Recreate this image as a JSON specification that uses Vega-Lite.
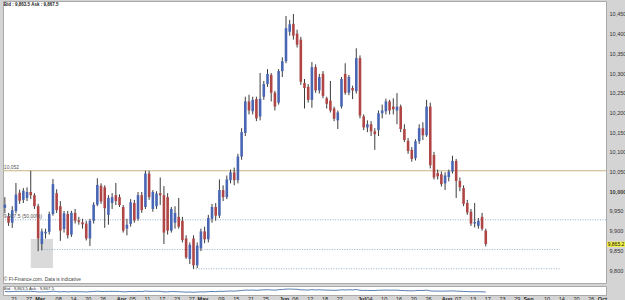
{
"$schema": "https://vega.github.io/schema/vega-lite/v6.json",
"background": "#d4d4d4",
"padding": {"left": 2, "top": 0, "right": 0, "bottom": 0},
"spacing": 1,
"config": {"view": {"fill": "#ffffff", "stroke": "#aaaaaa", "strokeWidth": 1}, "font": "Liberation Sans", "background": "#d4d4d4", "axisY": {"tickCount": 14}},
"resolve": {"scale": {"x": "shared"}},
"datasets": {
"ohlc": [
{"d":"2012-02-17","o":9958,"h":9985,"l":9944,"c":9966},
{"d":"2012-02-20","o":9937,"h":9945,"l":9912,"c":9920},
{"d":"2012-02-21","o":9920,"h":9962,"l":9907,"c":9952},
{"d":"2012-02-22","o":9950,"h":10021,"l":9944,"c":9992},
{"d":"2012-02-23","o":9996,"h":10004,"l":9968,"c":9976},
{"d":"2012-02-24","o":9978,"h":10008,"l":9970,"c":10001},
{"d":"2012-02-27","o":9983,"h":10010,"l":9975,"c":9998},
{"d":"2012-02-28","o":9998,"h":10052,"l":9980,"c":9990},
{"d":"2012-02-29","o":9990,"h":9995,"l":9955,"c":9962},
{"d":"2012-03-01","o":9962,"h":9968,"l":9848,"c":9880},
{"d":"2012-03-02","o":9866,"h":9905,"l":9850,"c":9898},
{"d":"2012-03-05","o":9893,"h":9905,"l":9880,"c":9897},
{"d":"2012-03-06","o":9897,"h":9948,"l":9890,"c":9942},
{"d":"2012-03-07","o":9942,"h":10031,"l":9938,"c":10018},
{"d":"2012-03-08","o":9995,"h":10005,"l":9945,"c":9952},
{"d":"2012-03-09","o":9962,"h":9975,"l":9874,"c":9900},
{"d":"2012-03-12","o":9904,"h":9950,"l":9895,"c":9944},
{"d":"2012-03-13","o":9942,"h":9950,"l":9880,"c":9888},
{"d":"2012-03-14","o":9890,"h":9950,"l":9884,"c":9945},
{"d":"2012-03-15","o":9945,"h":9955,"l":9918,"c":9925},
{"d":"2012-03-16","o":9926,"h":9935,"l":9915,"c":9922},
{"d":"2012-03-19","o":9921,"h":9930,"l":9905,"c":9916},
{"d":"2012-03-20","o":9918,"h":9925,"l":9875,"c":9880},
{"d":"2012-03-21","o":9880,"h":9930,"l":9861,"c":9925},
{"d":"2012-03-22","o":9925,"h":9972,"l":9918,"c":9966},
{"d":"2012-03-23","o":9966,"h":10033,"l":9962,"c":10016},
{"d":"2012-03-26","o":10014,"h":10020,"l":9968,"c":9974},
{"d":"2012-03-27","o":10010,"h":10015,"l":9907,"c":9957},
{"d":"2012-03-28","o":9940,"h":9990,"l":9915,"c":9983},
{"d":"2012-03-29","o":9970,"h":9995,"l":9955,"c":9985},
{"d":"2012-03-30","o":9990,"h":10021,"l":9965,"c":9975},
{"d":"2012-04-02","o":9985,"h":9992,"l":9960,"c":9965},
{"d":"2012-04-03","o":9960,"h":9965,"l":9895,"c":9900},
{"d":"2012-04-04","o":9905,"h":9930,"l":9888,"c":9915},
{"d":"2012-04-05","o":9917,"h":9980,"l":9910,"c":9972},
{"d":"2012-04-06","o":9970,"h":9978,"l":9920,"c":9926},
{"d":"2012-04-09","o":9930,"h":9998,"l":9925,"c":9990},
{"d":"2012-04-10","o":9990,"h":9998,"l":9945,"c":9952},
{"d":"2012-04-11","o":9960,"h":10052,"l":9955,"c":10045},
{"d":"2012-04-12","o":10045,"h":10052,"l":9978,"c":9985},
{"d":"2012-04-13","o":9955,"h":10003,"l":9948,"c":9998},
{"d":"2012-04-16","o":9962,"h":10000,"l":9955,"c":9994},
{"d":"2012-04-17","o":9995,"h":10035,"l":9965,"c":9990},
{"d":"2012-04-18","o":9990,"h":10013,"l":9866,"c":9895},
{"d":"2012-04-19","o":9985,"h":9995,"l":9890,"c":9900},
{"d":"2012-04-20","o":9900,"h":9960,"l":9895,"c":9955},
{"d":"2012-04-23","o":9920,"h":9962,"l":9905,"c":9945},
{"d":"2012-04-24","o":9935,"h":9983,"l":9905,"c":9910},
{"d":"2012-04-25","o":9925,"h":9935,"l":9870,"c":9876},
{"d":"2012-04-26","o":9880,"h":9888,"l":9828,"c":9832},
{"d":"2012-04-27","o":9828,"h":9870,"l":9815,"c":9864},
{"d":"2012-04-30","o":9880,"h":9888,"l":9803,"c":9812},
{"d":"2012-05-01","o":9812,"h":9870,"l":9805,"c":9862},
{"d":"2012-05-02","o":9855,"h":9905,"l":9848,"c":9898},
{"d":"2012-05-03","o":9898,"h":9910,"l":9868,"c":9878},
{"d":"2012-05-04","o":9878,"h":9940,"l":9870,"c":9932},
{"d":"2012-05-07","o":9930,"h":9968,"l":9920,"c":9960},
{"d":"2012-05-08","o":9960,"h":9970,"l":9925,"c":9938},
{"d":"2012-05-09","o":9938,"h":10030,"l":9932,"c":10003},
{"d":"2012-05-10","o":10003,"h":10015,"l":9975,"c":9985},
{"d":"2012-05-11","o":9985,"h":10040,"l":9980,"c":10030},
{"d":"2012-05-14","o":10028,"h":10055,"l":10020,"c":10048},
{"d":"2012-05-15","o":10048,"h":10060,"l":10015,"c":10028},
{"d":"2012-05-16","o":10028,"h":10095,"l":10020,"c":10088},
{"d":"2012-05-17","o":10088,"h":10160,"l":10080,"c":10150},
{"d":"2012-05-18","o":10148,"h":10240,"l":10140,"c":10228},
{"d":"2012-05-21","o":10228,"h":10245,"l":10195,"c":10205},
{"d":"2012-05-22","o":10203,"h":10240,"l":10195,"c":10232},
{"d":"2012-05-23","o":10234,"h":10240,"l":10178,"c":10185},
{"d":"2012-05-24","o":10190,"h":10300,"l":10180,"c":10235},
{"d":"2012-05-25","o":10240,"h":10280,"l":10232,"c":10272},
{"d":"2012-05-28","o":10272,"h":10310,"l":10265,"c":10298},
{"d":"2012-05-29","o":10295,"h":10300,"l":10228,"c":10250},
{"d":"2012-05-30","o":10250,"h":10255,"l":10205,"c":10215},
{"d":"2012-05-31","o":10225,"h":10310,"l":10220,"c":10305},
{"d":"2012-06-01","o":10305,"h":10340,"l":10290,"c":10330},
{"d":"2012-06-04","o":10330,"h":10445,"l":10325,"c":10414},
{"d":"2012-06-05","o":10405,"h":10435,"l":10395,"c":10424},
{"d":"2012-06-06","o":10425,"h":10450,"l":10385,"c":10395},
{"d":"2012-06-07","o":10400,"h":10410,"l":10365,"c":10372},
{"d":"2012-06-08","o":10385,"h":10392,"l":10270,"c":10278},
{"d":"2012-06-11","o":10275,"h":10285,"l":10210,"c":10262},
{"d":"2012-06-12","o":10265,"h":10272,"l":10225,"c":10232},
{"d":"2012-06-13","o":10232,"h":10328,"l":10212,"c":10315},
{"d":"2012-06-14","o":10315,"h":10322,"l":10250,"c":10256},
{"d":"2012-06-15","o":10256,"h":10298,"l":10248,"c":10290},
{"d":"2012-06-18","o":10298,"h":10305,"l":10236,"c":10242},
{"d":"2012-06-19","o":10236,"h":10240,"l":10210,"c":10222},
{"d":"2012-06-20","o":10230,"h":10280,"l":10200,"c":10205},
{"d":"2012-06-21","o":10210,"h":10215,"l":10178,"c":10184},
{"d":"2012-06-22","o":10180,"h":10205,"l":10158,"c":10200},
{"d":"2012-06-25","o":10215,"h":10290,"l":10210,"c":10285},
{"d":"2012-06-26","o":10298,"h":10325,"l":10245,"c":10250},
{"d":"2012-06-27","o":10250,"h":10295,"l":10244,"c":10290},
{"d":"2012-06-28","o":10262,"h":10268,"l":10234,"c":10256},
{"d":"2012-06-29","o":10254,"h":10363,"l":10248,"c":10338},
{"d":"2012-07-02","o":10338,"h":10345,"l":10185,"c":10192},
{"d":"2012-07-03","o":10190,"h":10195,"l":10155,"c":10162},
{"d":"2012-07-04","o":10162,"h":10180,"l":10150,"c":10170},
{"d":"2012-07-05","o":10170,"h":10178,"l":10140,"c":10152},
{"d":"2012-07-06","o":10152,"h":10160,"l":10105,"c":10145},
{"d":"2012-07-09","o":10155,"h":10205,"l":10140,"c":10198},
{"d":"2012-07-10","o":10198,"h":10220,"l":10185,"c":10205},
{"d":"2012-07-11","o":10203,"h":10235,"l":10195,"c":10228},
{"d":"2012-07-12","o":10228,"h":10232,"l":10195,"c":10205},
{"d":"2012-07-13","o":10215,"h":10236,"l":10195,"c":10208},
{"d":"2012-07-16","o":10205,"h":10249,"l":10170,"c":10215},
{"d":"2012-07-17","o":10215,"h":10220,"l":10150,"c":10158},
{"d":"2012-07-18","o":10158,"h":10170,"l":10125,"c":10130},
{"d":"2012-07-19","o":10128,"h":10135,"l":10095,"c":10102},
{"d":"2012-07-20","o":10105,"h":10112,"l":10075,"c":10082},
{"d":"2012-07-23","o":10084,"h":10132,"l":10078,"c":10127},
{"d":"2012-07-24","o":10127,"h":10170,"l":10120,"c":10160},
{"d":"2012-07-25","o":10160,"h":10175,"l":10130,"c":10142},
{"d":"2012-07-26","o":10142,"h":10232,"l":10138,"c":10215},
{"d":"2012-07-27","o":10215,"h":10225,"l":10058,"c":10066},
{"d":"2012-07-30","o":10092,"h":10100,"l":10030,"c":10035},
{"d":"2012-07-31","o":10046,"h":10055,"l":10030,"c":10038},
{"d":"2012-08-01","o":10043,"h":10050,"l":10012,"c":10018},
{"d":"2012-08-02","o":10020,"h":10048,"l":10003,"c":10040},
{"d":"2012-08-03","o":10036,"h":10055,"l":10025,"c":10050},
{"d":"2012-08-06","o":10050,"h":10090,"l":10045,"c":10077},
{"d":"2012-08-07","o":10077,"h":10082,"l":9983,"c":10026},
{"d":"2012-08-08","o":10026,"h":10035,"l":10000,"c":10010},
{"d":"2012-08-09","o":10008,"h":10015,"l":9962,"c":9968},
{"d":"2012-08-10","o":9970,"h":9978,"l":9940,"c":9946},
{"d":"2012-08-13","o":9948,"h":9955,"l":9912,"c":9918},
{"d":"2012-08-14","o":9918,"h":9970,"l":9908,"c":9922},
{"d":"2012-08-15","o":9912,"h":9932,"l":9905,"c":9925},
{"d":"2012-08-16","o":9935,"h":9945,"l":9900,"c":9905},
{"d":"2012-08-17","o":9900,"h":9905,"l":9860,"c":9866}
],
"levels": [
{"y": 10052, "label": "10,052", "style": "res"},
{"y": 9927.5, "label": "9,927.5 (50.00%)", "style": "fib"}
],
"segments": [
{"d": "2012-03-02", "d2": "2012-09-14", "y": 9852},
{"d": "2012-04-30", "d2": "2012-09-14", "y": 9803}
],
"zone": [{"d": "2012-02-28", "d2": "2012-03-07", "lo": 9805, "hi": 9879}]
},
"vconcat": [
{
"width": 603,
"height": 282,
"layer": [
{"data": {"name": "zone"}, "mark": {"type": "rect", "color": "#dadada"},
 "encoding": {"x": {"field": "d", "type": "ordinal", "axis": null}, "x2": {"field": "d2"},
  "y": {"field": "lo", "type": "quantitative", "title": null, "scale": {"domain": [9767, 10483], "zero": false, "nice": false},
   "axis": {"orient": "right", "values": [9800, 9850, 9900, 9950, 10000, 10050, 10100, 10150, 10200, 10250, 10300, 10350, 10400, 10450], "tickCount": 14,
    "labelExpr": "format(datum.value, ',')", "labelFontSize": 5.5, "labelColor": "#333333", "ticks": false, "domain": false, "grid": false,
    "labelPadding": 3, "minExtent": 20, "maxExtent": 20, "title": null, "labelOverlap": false,
    "labelFontWeight": {"condition": {"test": "datum.value == 10000", "value": "bold"}, "value": "normal"}}},
  "y2": {"field": "hi"}}},
{"data": {"name": "levels"}, "transform": [{"filter": "datum.style == 'res'"}],
 "mark": {"type": "rule", "color": "#c6b384", "strokeWidth": 1},
 "encoding": {"y": {"field": "y", "type": "quantitative", "title": null, "axis": {"orient": "right", "values": [9800, 9850, 9900, 9950, 10000, 10050, 10100, 10150, 10200, 10250, 10300, 10350, 10400, 10450], "tickCount": 14, "labelOverlap": false, "title": null}}}},
{"data": {"name": "levels"}, "transform": [{"filter": "datum.style == 'fib'"}],
 "mark": {"type": "rule", "color": "#7f9cb5", "strokeWidth": 0.8, "strokeDash": [1, 1.5]},
 "encoding": {"y": {"field": "y", "type": "quantitative", "title": null, "axis": {"orient": "right", "values": [9800, 9850, 9900, 9950, 10000, 10050, 10100, 10150, 10200, 10250, 10300, 10350, 10400, 10450], "tickCount": 14, "labelOverlap": false, "title": null}}}},
{"data": {"name": "segments"},
 "mark": {"type": "rule", "color": "#7f9cb5", "strokeWidth": 0.8, "strokeDash": [1, 1.5]},
 "encoding": {"x": {"field": "d", "type": "ordinal", "axis": null}, "x2": {"field": "d2"},
  "y": {"field": "y", "type": "quantitative", "title": null, "axis": {"orient": "right", "values": [9800, 9850, 9900, 9950, 10000, 10050, 10100, 10150, 10200, 10250, 10300, 10350, 10400, 10450], "tickCount": 14, "labelOverlap": false, "title": null}}}},
{"data": {"name": "ohlc"}, "mark": {"type": "rule", "color": "#3c3c3c", "strokeWidth": 1},
 "encoding": {
  "x": {"field": "d", "type": "ordinal", "axis": null, "scale": {"paddingInner": 0, "paddingOuter": 0, "domain": ["2012-02-17","2012-02-20","2012-02-21","2012-02-22","2012-02-23","2012-02-24","2012-02-27","2012-02-28","2012-02-29","2012-03-01","2012-03-02","2012-03-05","2012-03-06","2012-03-07","2012-03-08","2012-03-09","2012-03-12","2012-03-13","2012-03-14","2012-03-15","2012-03-16","2012-03-19","2012-03-20","2012-03-21","2012-03-22","2012-03-23","2012-03-26","2012-03-27","2012-03-28","2012-03-29","2012-03-30","2012-04-02","2012-04-03","2012-04-04","2012-04-05","2012-04-06","2012-04-09","2012-04-10","2012-04-11","2012-04-12","2012-04-13","2012-04-16","2012-04-17","2012-04-18","2012-04-19","2012-04-20","2012-04-23","2012-04-24","2012-04-25","2012-04-26","2012-04-27","2012-04-30","2012-05-01","2012-05-02","2012-05-03","2012-05-04","2012-05-07","2012-05-08","2012-05-09","2012-05-10","2012-05-11","2012-05-14","2012-05-15","2012-05-16","2012-05-17","2012-05-18","2012-05-21","2012-05-22","2012-05-23","2012-05-24","2012-05-25","2012-05-28","2012-05-29","2012-05-30","2012-05-31","2012-06-01","2012-06-04","2012-06-05","2012-06-06","2012-06-07","2012-06-08","2012-06-11","2012-06-12","2012-06-13","2012-06-14","2012-06-15","2012-06-18","2012-06-19","2012-06-20","2012-06-21","2012-06-22","2012-06-25","2012-06-26","2012-06-27","2012-06-28","2012-06-29","2012-07-02","2012-07-03","2012-07-04","2012-07-05","2012-07-06","2012-07-09","2012-07-10","2012-07-11","2012-07-12","2012-07-13","2012-07-16","2012-07-17","2012-07-18","2012-07-19","2012-07-20","2012-07-23","2012-07-24","2012-07-25","2012-07-26","2012-07-27","2012-07-30","2012-07-31","2012-08-01","2012-08-02","2012-08-03","2012-08-06","2012-08-07","2012-08-08","2012-08-09","2012-08-10","2012-08-13","2012-08-14","2012-08-15","2012-08-16","2012-08-17","2012-08-20","2012-08-21","2012-08-22","2012-08-23","2012-08-24","2012-08-27","2012-08-28","2012-08-29","2012-08-30","2012-08-31","2012-09-03","2012-09-04","2012-09-05","2012-09-06","2012-09-07","2012-09-10","2012-09-11","2012-09-12","2012-09-13","2012-09-14","2012-09-17","2012-09-18","2012-09-19","2012-09-20","2012-09-21","2012-09-24","2012-09-25","2012-09-26","2012-09-27","2012-09-28","2012-10-01","2012-10-02"]}},
  "y": {"field": "l", "type": "quantitative", "title": null, "axis": {"orient": "right", "values": [9800, 9850, 9900, 9950, 10000, 10050, 10100, 10150, 10200, 10250, 10300, 10350, 10400, 10450], "tickCount": 14, "labelOverlap": false, "title": null}},
  "y2": {"field": "h"}}},
{"data": {"name": "ohlc"}, "mark": {"type": "bar", "width": {"band": 0.7}},
 "encoding": {
  "x": {"field": "d", "type": "ordinal", "axis": null},
  "y": {"field": "o", "type": "quantitative", "title": null, "axis": {"orient": "right", "values": [9800, 9850, 9900, 9950, 10000, 10050, 10100, 10150, 10200, 10250, 10300, 10350, 10400, 10450], "tickCount": 14, "labelOverlap": false, "title": null}},
  "y2": {"field": "c"},
  "color": {"condition": {"test": "datum.c >= datum.o", "value": "#4866b4"}, "value": "#b04545"}}},
{"data": {"name": "levels"},
 "mark": {"type": "text", "align": "left", "baseline": "bottom", "fontSize": 5, "dx": -1, "dy": -1, "color": "#555555"},
 "encoding": {"x": {"datum": "2012-02-17", "type": "ordinal", "axis": null},
  "y": {"field": "y", "type": "quantitative", "title": null, "axis": {"orient": "right", "values": [9800, 9850, 9900, 9950, 10000, 10050, 10100, 10150, 10200, 10250, 10300, 10350, 10400, 10450], "tickCount": 14, "labelOverlap": false, "title": null}},
  "text": {"field": "label"}}},
{"data": {"values": [{"t": "Bid : 9,863.5 Ask : 9,867.5"}]},
 "mark": {"type": "text", "align": "left", "baseline": "top", "fontSize": 4.5, "fontWeight": "bold", "dx": -1, "dy": 1, "color": "#222222"},
 "encoding": {"x": {"datum": "2012-02-17", "type": "ordinal", "axis": null},
  "y": {"datum": 10483, "type": "quantitative", "title": null, "axis": {"orient": "right", "values": [9800, 9850, 9900, 9950, 10000, 10050, 10100, 10150, 10200, 10250, 10300, 10350, 10400, 10450], "tickCount": 14, "labelOverlap": false, "title": null}},
  "text": {"field": "t"}}},
{"data": {"values": [{"t": "© FI-Finance.com. Data is indicative"}]},
 "mark": {"type": "text", "align": "left", "baseline": "bottom", "fontSize": 4.8, "dx": -1, "dy": -1, "color": "#444444"},
 "encoding": {"x": {"datum": "2012-02-17", "type": "ordinal", "axis": null},
  "y": {"datum": 9767, "type": "quantitative", "title": null, "axis": {"orient": "right", "values": [9800, 9850, 9900, 9950, 10000, 10050, 10100, 10150, 10200, 10250, 10300, 10350, 10400, 10450], "tickCount": 14, "labelOverlap": false, "title": null}},
  "text": {"field": "t"}}},
{"data": {"values": [{"v": 9865.2, "t": "9,865.2"}]},
 "mark": {"type": "point", "shape": "M-1,-0.3L1,-0.3L1,0.3L-1,0.3Z", "size": 324, "filled": true, "color": "#f4f247", "opacity": 1, "xOffset": 10},
 "encoding": {"x": {"value": "width"},
  "y": {"field": "v", "type": "quantitative", "title": null, "axis": {"orient": "right", "values": [9800, 9850, 9900, 9950, 10000, 10050, 10100, 10150, 10200, 10250, 10300, 10350, 10400, 10450], "tickCount": 14, "labelOverlap": false, "title": null}}}},
{"data": {"values": [{"v": 9865.2, "t": "9,865.2"}]},
 "mark": {"type": "text", "align": "center", "baseline": "middle", "fontSize": 5, "color": "#111111", "xOffset": 10},
 "encoding": {"x": {"value": "width"},
  "y": {"field": "v", "type": "quantitative", "title": null, "axis": {"orient": "right", "values": [9800, 9850, 9900, 9950, 10000, 10050, 10100, 10150, 10200, 10250, 10300, 10350, 10400, 10450], "tickCount": 14, "labelOverlap": false, "title": null}},
  "text": {"field": "t"}}}
]
},
{
"width": 603,
"height": 9,
"layer": [
{"data": {"name": "ohlc"}, "mark": {"type": "line", "color": "#2d5d9b", "strokeWidth": 0.8},
 "encoding": {
  "x": {"field": "d", "type": "ordinal", "title": null,
   "axis": {"values": ["2012-02-21","2012-02-27","2012-03-01","2012-03-08","2012-03-14","2012-03-20","2012-03-26","2012-04-02","2012-04-05","2012-04-11","2012-04-17","2012-04-23","2012-04-27","2012-05-02","2012-05-09","2012-05-15","2012-05-21","2012-05-25","2012-06-01","2012-06-06","2012-06-12","2012-06-18","2012-06-22","2012-07-02","2012-07-04","2012-07-10","2012-07-16","2012-07-20","2012-07-26","2012-08-02","2012-08-07","2012-08-13","2012-08-17","2012-08-23","2012-08-29","2012-09-03","2012-09-10","2012-09-14","2012-09-20","2012-09-26","2012-10-01"],
    "labelExpr": "indexof(['2012-03-01','2012-04-02','2012-05-02','2012-06-01','2012-07-02','2012-08-02','2012-09-03','2012-10-01'], datum.value) >= 0 ? utcFormat(toDate(datum.value), '%b') : slice(datum.value, 8)",
    "labelFontSize": 5.5, "labelColor": "#222222", "ticks": false, "domain": false, "grid": false, "labelPadding": 1,
    "labelAngle": 0, "labelOverlap": false, "labelOffset": 2, "labelBaseline": "top", "title": null, "minExtent": 8, "maxExtent": 8,
    "labelFontWeight": {"condition": {"test": "indexof(['2012-03-01','2012-04-02','2012-05-02','2012-06-01','2012-07-02','2012-08-02','2012-09-03','2012-10-01'], datum.value) >= 0", "value": "bold"}, "value": "normal"}}},
  "y": {"field": "c", "type": "quantitative", "axis": null, "title": null, "scale": {"domain": [9300, 11000], "zero": false, "nice": false}}}},
{"data": {"values": [{"t": "Bid : 9,863.5 Ask : 9,867.5"}]},
 "mark": {"type": "text", "align": "left", "baseline": "top", "fontSize": 4.3, "dx": -1, "dy": 0.5, "color": "#333333"},
 "encoding": {"x": {"datum": "2012-02-17", "type": "ordinal"},
  "y": {"datum": 11000, "type": "quantitative", "axis": null, "title": null},
  "text": {"field": "t"}}}
]
}
]
}
